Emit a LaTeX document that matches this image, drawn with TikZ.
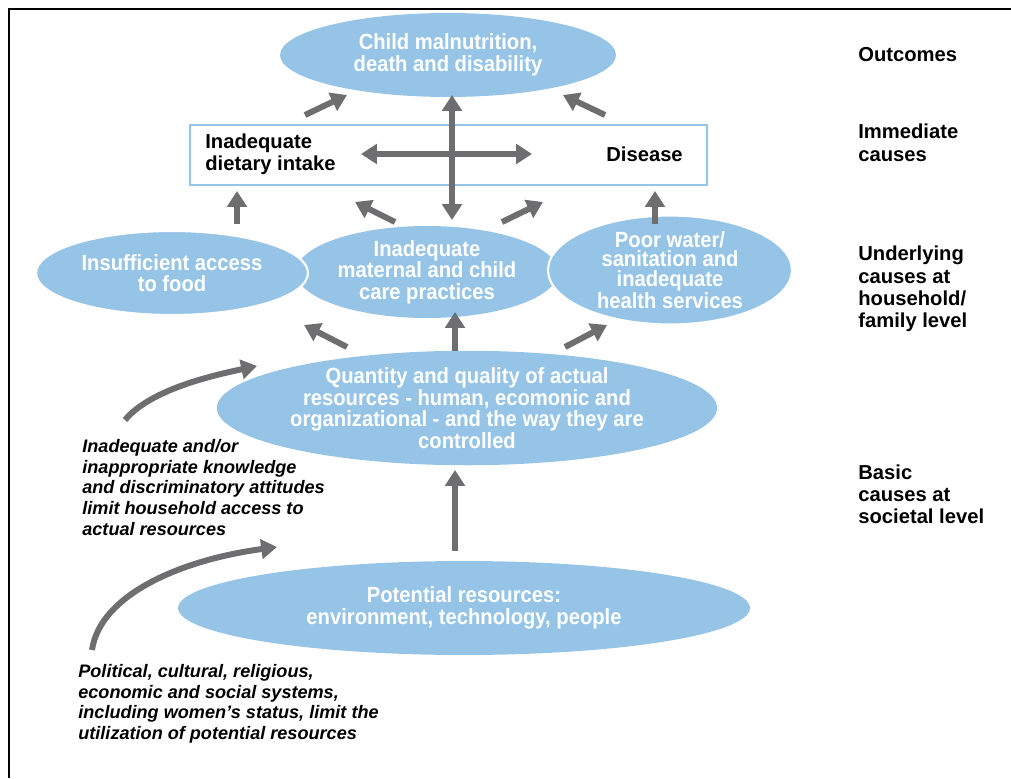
\documentclass[tikz,border=0pt]{standalone}
\usepackage{fontspec}
\setmainfont{Liberation Sans}
\newfontfamily\narrowfont[FakeStretch=0.92]{Liberation Sans}
\usepackage{tikz}
\usetikzlibrary{
  positioning,
  arrows.meta,
  shapes.geometric
}
\definecolor{causeblue}{RGB}{150,196,230}
\definecolor{arrowgray}{RGB}{110,110,112}
\tikzset{
  >={Triangle[width=11pt,length=9pt]},
  fat/.style={->, line width=3.4pt, draw=arrowgray},
  fatboth/.style={<->, line width=3.4pt, draw=arrowgray},
  blob/.style={ellipse, fill=causeblue, text=white, inner sep=0pt, align=center,
    font=\narrowfont\bfseries\fontsize{12.5}{12.3}\selectfont},
  level/.style={font=\bfseries\fontsize{11.5}{12.6}\selectfont, align=left, inner sep=0pt},
  note/.style={font=\bfseries\itshape\fontsize{10.3}{11.8}\selectfont, align=left,
    inner sep=0pt, anchor=north west}
}

\begin{document}
\begin{tikzpicture}[x=0.02cm, y=-0.02cm]
    \useasboundingbox (0,0) rectangle (1011,778);
    \draw[line width=1.7pt] (9,778) -- (9,9) -- (1011,9);

    \node[blob, minimum width=6.72cm, minimum height=1.68cm] (outcome) at (448,55)
      {Child malnutrition,\\death and disability};
    \node[draw=causeblue, line width=1pt, minimum width=10.34cm, minimum height=1.2cm] (immediate) at (448.5,155) {};
    \node[level, anchor=west] (intake) at (205,154) {Inadequate\\dietary intake};
    \node[level, anchor=west] (disease) at (606,154) {Disease};

    \node[blob, minimum width=5.24cm, minimum height=1.84cm] (care) at (427,272)
      {Inadequate\\maternal and child\\care practices};
    \node[blob, draw=white, line width=1.2pt, minimum width=5.44cm, minimum height=1.68cm] (food) at (172,273)
      {Insufficient access\\to food};
    \node[blob, draw=white, line width=1.2pt, minimum width=4.88cm, minimum height=1.68cm,
      font=\narrowfont\bfseries\fontsize{12.5}{11}\selectfont] (water) at (670,270)
      {Poor water/\\sanitation and\\inadequate\\health services};

    \node[blob, minimum width=8.88cm, minimum height=2.12cm] (actual) at (467,408)
      {Quantity and quality of actual\\resources - human, ecomonic and\\organizational - and the way they are\\controlled};
    \node[blob, minimum width=11.44cm, minimum height=1.88cm] (potential) at (464,608)
      {Potential resources:\\environment, technology, people};

    \node[level, anchor=west] (outcomes) at (858,55) {Outcomes};
    \node[level, anchor=north west] (immed) at (858,124) {Immediate\\causes};
    \node[level, anchor=north west] (under) at (858,246) {Underlying\\causes at\\household/\\family level};
    \node[level, anchor=north west] (basic) at (858,464) {Basic\\causes at\\societal level};

    \node[note] (knowledge) at (82,439) {Inadequate and/or\\inappropriate knowledge\\and discriminatory attitudes\\limit household access to\\actual resources};
    \node[note] (systems) at (78,664) {Political, cultural, religious,\\economic and social systems,\\including women's status, limit the\\utilization of potential resources};

    \coordinate (p1a) at (305,115); \coordinate (p1b) at (347,95);
    \coordinate (p2a) at (605,115); \coordinate (p2b) at (563,95);
    \coordinate (p3a) at (452,220); \coordinate (p3b) at (452,95);
    \coordinate (p4a) at (361,154); \coordinate (p4b) at (532,154);
    \coordinate (p5a) at (237,224); \coordinate (p5b) at (237,191);
    \coordinate (p6a) at (655,224); \coordinate (p6b) at (655,191);
    \coordinate (p7a) at (395,222); \coordinate (p7b) at (355,202);
    \coordinate (p8a) at (502,222); \coordinate (p8b) at (543,202);
    \coordinate (p9a) at (347,347); \coordinate (p9b) at (304,325);
    \coordinate (p10a) at (455,351); \coordinate (p10b) at (455,312);
    \coordinate (p11a) at (565,347); \coordinate (p11b) at (607,325);
    \coordinate (p12a) at (455,551); \coordinate (p12b) at (455,470);
    \coordinate (k1a) at (125,420); \coordinate (k1b) at (257,366);
    \coordinate (k2a) at (92,650); \coordinate (k2b) at (277,547);

    \draw[fat] (p1a) -- (p1b);
    \draw[fat] (p2a) -- (p2b);
    \draw[fatboth] (p3a) -- (p3b);
    \draw[fatboth] (p4a) -- (p4b);
    \draw[fat] (p5a) -- (p5b);
    \draw[fat] (p6a) -- (p6b);
    \draw[fat] (p7a) -- (p7b);
    \draw[fat] (p8a) -- (p8b);
    \draw[fat] (p9a) -- (p9b);
    \draw[fat] (p10a) -- (p10b);
    \draw[fat] (p11a) -- (p11b);
    \draw[fat] (p12a) -- (p12b);
    \draw[fat] (k1a) .. controls (150,390) and (210,376) .. (k1b);
    \draw[fat] (k2a) .. controls (100,595) and (180,560) .. (k2b);
  \end{tikzpicture}
\end{document}
